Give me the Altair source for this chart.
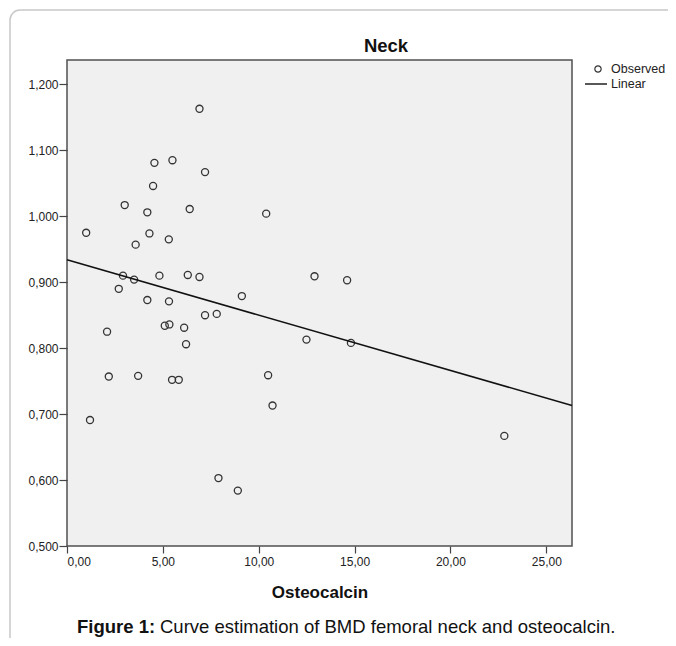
import altair as alt
import pandas as pd

# Observed values (Osteocalcin vs BMD femoral neck)
osteocalcin = [1.00, 6.91, 4.56, 5.50, 7.20, 4.49, 3.01, 4.19, 6.40, 10.39,
               4.30, 5.31, 3.58, 2.92, 3.50, 4.82, 6.30, 6.91, 12.91, 2.70,
               9.12, 4.19, 5.32, 7.20, 7.81, 5.10, 5.34, 6.11, 2.09, 6.21,
               12.49, 2.18, 3.71, 5.48, 5.83, 10.49, 10.72, 1.20, 7.90, 8.91,
               14.61, 14.81, 22.81]
bmd_neck = [0.975, 1.163, 1.081, 1.085, 1.067, 1.046, 1.017, 1.006, 1.011, 1.004,
            0.974, 0.965, 0.957, 0.910, 0.904, 0.910, 0.911, 0.908, 0.909, 0.890,
            0.879, 0.873, 0.871, 0.850, 0.852, 0.834, 0.836, 0.831, 0.825, 0.806,
            0.813, 0.757, 0.758, 0.752, 0.752, 0.759, 0.713, 0.691, 0.603, 0.584,
            0.903, 0.808, 0.667]

# Linear fit line (endpoints)
fit_x = [0.0, 26.34]
fit_y = [0.934, 0.713]

x_ticks = [0, 5, 10, 15, 20, 25]
y_ticks = [0.5, 0.6, 0.7, 0.8, 0.9, 1.0, 1.1, 1.2]
x_domain = [0, 26.34]
y_domain = [0.5, 1.237]

legend_labels = ["Observed", "Linear"]
title_text = "Neck"
x_title = "Osteocalcin"
caption_bold = "Figure 1:"
caption_text = "Curve estimation of BMD femoral neck and osteocalcin."

FONT = "Liberation Sans"
W, H = 505, 486

obs = pd.DataFrame({"x": osteocalcin, "y": bmd_neck})
fit = pd.DataFrame({"x": fit_x, "y": fit_y})
one = pd.DataFrame({"k": [0]})

xs = alt.Scale(domain=x_domain, nice=False, zero=False)
ys = alt.Scale(domain=y_domain, nice=False, zero=False)

x_axis = alt.Axis(values=x_ticks, domain=False, grid=False, tickSize=7, tickColor="#444",
                  tickWidth=1.2, labelPadding=3, labelFontSize=12, labelColor="#222",
                  labelFont=FONT,
                  labelExpr="replace(format(datum.value, '.2f'), '.', ',')",
                  title=x_title, titleFont=FONT, titleFontSize=17, titleFontWeight="bold",
                  titleColor="#111", titleBaseline="alphabetic", titleY=51)
y_axis = alt.Axis(values=y_ticks, domain=False, grid=False, tickSize=8, tickColor="#444",
                  tickWidth=1.2, labelPadding=1, labelFontSize=12, labelColor="#222",
                  labelFont=FONT,
                  labelExpr="replace(format(datum.value, '.3f'), '.', ',')")

border = alt.Chart(one).mark_rect(cornerRadius=10, fill="transparent", stroke="#c8c8c8",
                                  strokeWidth=1.5).encode(
    x=alt.value(-57), x2=alt.value(700), y=alt.value(-50), y2=alt.value(700))

points = alt.Chart(obs).mark_point(shape="circle", filled=False, size=50, stroke="#333",
                                   strokeWidth=1.3, opacity=1).encode(
    x=alt.X("x:Q", scale=xs, axis=x_axis),
    y=alt.Y("y:Q", scale=ys, axis=y_axis, title=None))

line = alt.Chart(fit).mark_line(color="#111", strokeWidth=1.5).encode(
    x=alt.X("x:Q", scale=xs), y=alt.Y("y:Q", scale=ys))

# title (as text so the border rect does not push it away)
title = alt.Chart(one).mark_text(text=title_text, align="center", baseline="alphabetic",
                                 font=FONT, fontSize=18.5, fontWeight="bold", color="#111").encode(
    x=alt.value(319), y=alt.value(-8))

# legend (manual)
leg_pt = alt.Chart(one).mark_point(shape="circle", filled=False, size=40, stroke="#333",
                                   strokeWidth=1.2, opacity=1).encode(
    x=alt.value(531), y=alt.value(9))
leg_ln = alt.Chart(one).mark_rule(color="#111", strokeWidth=1.4).encode(
    x=alt.value(518), x2=alt.value(540), y=alt.value(24))
leg_t1 = alt.Chart(one).mark_text(text=legend_labels[0], align="left", baseline="middle",
                                  font=FONT, fontSize=12.5, color="#222").encode(
    x=alt.value(544), y=alt.value(9))
leg_t2 = alt.Chart(one).mark_text(text=legend_labels[1], align="left", baseline="middle",
                                  font=FONT, fontSize=12.5, color="#222").encode(
    x=alt.value(544), y=alt.value(24))

cap1 = alt.Chart(one).mark_text(text=caption_bold, align="left", baseline="alphabetic",
                                font=FONT, fontSize=18.5, fontWeight="bold", color="#111").encode(
    x=alt.value(10), y=alt.value(573))
cap2 = alt.Chart(one).mark_text(text=caption_text, align="left", baseline="alphabetic",
                                font=FONT, fontSize=18.5, color="#111").encode(
    x=alt.value(93), y=alt.value(573))

chart = alt.layer(border, points, line, title, leg_pt, leg_ln, leg_t1, leg_t2, cap1, cap2).properties(
    width=W, height=H,
    autosize=alt.AutoSizeParams(type="none"),
    padding={"left": 59, "top": 52, "right": 96, "bottom": 92},
).configure(
    background="white"
).configure_view(
    fill="#F0F0F0", stroke="#505050", strokeWidth=1.5
)

chart.save("out.html", embed_options={"renderer": "svg", "actions": False})
